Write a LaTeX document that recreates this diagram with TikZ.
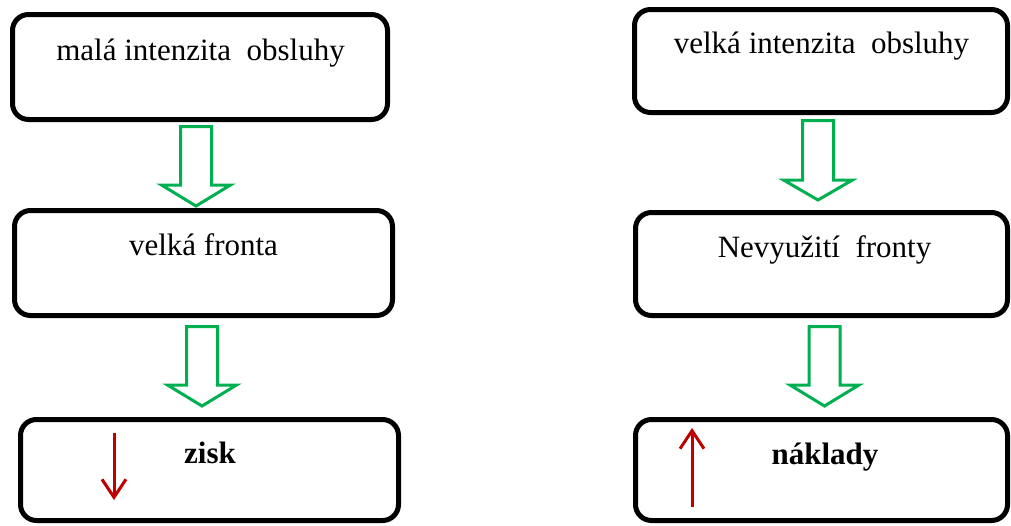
\documentclass[tikz,border=0pt]{standalone}
\usepackage{fontspec}
\setmainfont{Liberation Serif}
\usetikzlibrary{arrows.meta}
\definecolor{stepgreen}{RGB}{0,176,80}
\definecolor{trendred}{RGB}{192,0,0}
\tikzset{
  stagebox/.style={draw=black, line width=5pt, rounded corners=16pt,
    inner sep=0pt, fill=white},
  stagetext/.style={anchor=base, inner sep=0pt,
    font=\fontsize{31}{37}\selectfont},
  stagebold/.style={stagetext, font=\fontsize{31}{37}\selectfont\bfseries},
  flowarrow/.style={draw=stepgreen, line width=3pt, fill=white,
    line join=miter},
  trendarrow/.style={draw=trendred, line width=3pt,
    -{Straight Barb[length=18pt, width=24pt, line width=3pt]}},
}
% hollow block arrow pointing down: centre x, top, head base, tip
\newcommand\flowdown[4]{%
  \draw[flowarrow] (#1-15.5,#2) -- (#1+15.5,#2) -- (#1+15.5,#3)
    -- (#1+34.5,#3) -- (#1,#4) -- (#1-34.5,#3) -- (#1-15.5,#3) -- cycle;}
\begin{document}
\begin{tikzpicture}[x=1pt, y=-1pt]
  \useasboundingbox[fill=white] (0,0) rectangle (1011,525);

  % left chain
  \node[stagebox, minimum width=375pt, minimum height=105pt] (low)   at (200,67) {};
  \node[stagebox, minimum width=378pt, minimum height=105pt] (queue) at (203.5,263) {};
  \node[stagebox, minimum width=378pt, minimum height=101pt] (profit) at (209.5,470) {};
  \node[stagetext] (lowtxt)    at (200.5,60)  {malá intenzita\ \ obsluhy};
  \node[stagetext] (queuetxt)  at (203.5,255) {velká fronta};
  \node[stagebold] (profittxt) at (210,463)   {zisk};
  \flowdown{196}{126.5}{185}{206}
  \flowdown{202}{326.5}{385}{406}
  \coordinate (pdown0) at (114,433);
  \coordinate (pdown1) at (114,500);
  \draw[trendarrow] (pdown0) -- (pdown1);

  % right chain
  \node[stagebox, minimum width=373pt, minimum height=103pt] (high)  at (821,61) {};
  \node[stagebox, minimum width=372pt, minimum height=103pt] (idle)  at (821.5,264) {};
  \node[stagebox, minimum width=372pt, minimum height=101pt] (cost)  at (821.5,470) {};
  \node[stagetext] (hightxt) at (821.5,53)  {velká intenzita\ \ obsluhy};
  \node[stagetext] (idletxt) at (824.5,257) {Nevyužití\ \ fronty};
  \node[stagebold] (costtxt) at (825,464)   {náklady};
  \flowdown{818}{120.5}{180}{200}
  \flowdown{824.5}{326.5}{385}{406}
  \coordinate (cup0) at (692,507);
  \coordinate (cup1) at (692,428);
  \draw[trendarrow] (cup0) -- (cup1);
\end{tikzpicture}
\end{document}
